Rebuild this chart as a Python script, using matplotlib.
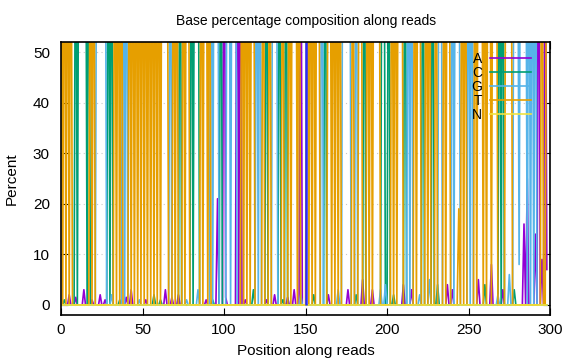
import numpy as np
import matplotlib
matplotlib.use("Agg")
import matplotlib.pyplot as plt

plt.rcParams['font.family'] = ['Liberation Sans', 'DejaVu Sans']

# dominant base at each position along the read ('.' = no base at 100 %)
calls = ("T.T.T.T..C.CCCCC.CT.T.GGGGGG.C.C.T.T.TG.G.T.T"
         ".T.T.T.T.T.T.T.T.TTTT.G.T.T.C.T.TT.C.CCC.T.TT"
         ".TG.GGG.C.A.GG.GGGA.AT.T.T.TT.G.G.T.C.T.GGG.C"
         ".T.C.T.TTT.TA...T.T.T.TT.G.C.TT.T.T.T.GGGGG.T"
         ".G.TT.C.T.T.TTTT.CC..C.T.T.TTT.C.G.G.T.TT.C.T"
         ".T.C.T.GG.T.TT.G.GGG.T.T.G.G.T.TTT.T.TT.TTT.C"
         ".C.TTTT.GGG.GGGG.G.G.G.A.T.AT")

# smaller peaks of the other bases
minor_pos = [5, 14, 24, 31, 43, 57, 64, 72, 84, 96, 108, 118, 131, 143,
             160, 176, 185, 199, 210, 226, 237, 244, 256, 264, 275, 281,
             284, 286, 289, 291, 295, 298,
             2, 9, 19, 27, 36, 40, 48, 52, 61, 68, 77, 89, 93, 101, 113,
             122, 126, 136, 139, 147, 155, 164, 170, 181, 191, 196, 204,
             215, 220, 231, 240, 250, 260, 268, 271, 278]
minor_base = ["A", "A", "A", "G", "A", "C", "A", "A", "G", "A", "A", "C",
              "A", "A", "G", "A", "A", "G", "A", "G", "A", "T", "A", "A",
              "G", "G", "A", "A", "G", "A", "A", "A",
              "C", "A", "A", "A", "C", "A", "G", "A", "C", "A", "G", "A",
              "C", "A", "A", "G", "A", "C", "A", "G", "C", "A", "G", "C",
              "A", "G", "C", "A", "G", "C", "A", "G", "C", "G", "A", "C"]
minor_val = [2, 3, 2, 2, 3, 2, 3, 2, 3, 21, 7, 3, 2, 3, 5, 3, 5, 4, 4,
             5, 4, 19, 5, 8, 6, 8, 16, 25, 8, 14, 9, 7,
             1, 1.5, 1, 1, 1, 1.5, 1, 1, 1, 1.5, 1, 1, 1, 1.5, 1, 2, 1,
             1, 1.5, 2, 2, 2, 3, 2, 3, 3, 2, 3, 2, 4, 3, 3, 4, 2, 3, 3]

bases = ["A", "C", "G", "T", "N"]
colors = ["#9400D3", "#009E73", "#56B4E9", "#E69F00", "#F0E442"]

pos = np.arange(len(calls))
pct = {b: np.zeros(len(calls)) for b in bases}
for i, c in enumerate(calls):
    if c in pct:
        pct[c][i] = 100
for p, b, v in zip(minor_pos, minor_base, minor_val):
    if p < len(calls) and pct[b][p] < 100:
        pct[b][p] = v

fig = plt.figure(figsize=(5.76, 3.6), dpi=100)
ax = fig.add_axes([0.106, 0.125, 0.849, 0.758])

ax.grid(axis="y", color="#c8c8c8", linestyle=(0, (1, 3)), linewidth=0.8)
ax.set_axisbelow(True)

for b, col in zip(bases, colors):
    ax.plot(pos, pct[b], color=col, lw=1.2, label=b)

# read 1 / read 2 boundary
ax.vlines(150, 0, 52, color="#2a2aff", lw=1.8)

ax.set_xlim(0, 300)
ax.set_ylim(-2, 52)
ax.set_xticks([0, 50, 100, 150, 200, 250, 300])
ax.set_yticks([0, 10, 20, 30, 40, 50])
ax.tick_params(direction="in", top=True, right=True, labelsize=11, length=5)
ax.tick_params(axis="y", pad=8)
ax.tick_params(axis="x", pad=6)
for s in ax.spines.values():
    s.set_linewidth(1.2)

ax.set_title("Base percentage composition along reads", fontsize=10, pad=12)
ax.set_xlabel("Position along reads", fontsize=11, labelpad=5)
ax.set_ylabel("Percent", fontsize=11, labelpad=10)

ax.legend(loc="upper right", bbox_to_anchor=(0.98, 1.0), frameon=False,
          markerfirst=False, handlelength=2.9, fontsize=10,
          labelspacing=0.0, handletextpad=0.6, borderaxespad=0.3)

fig.savefig("out.png", dpi=100)
